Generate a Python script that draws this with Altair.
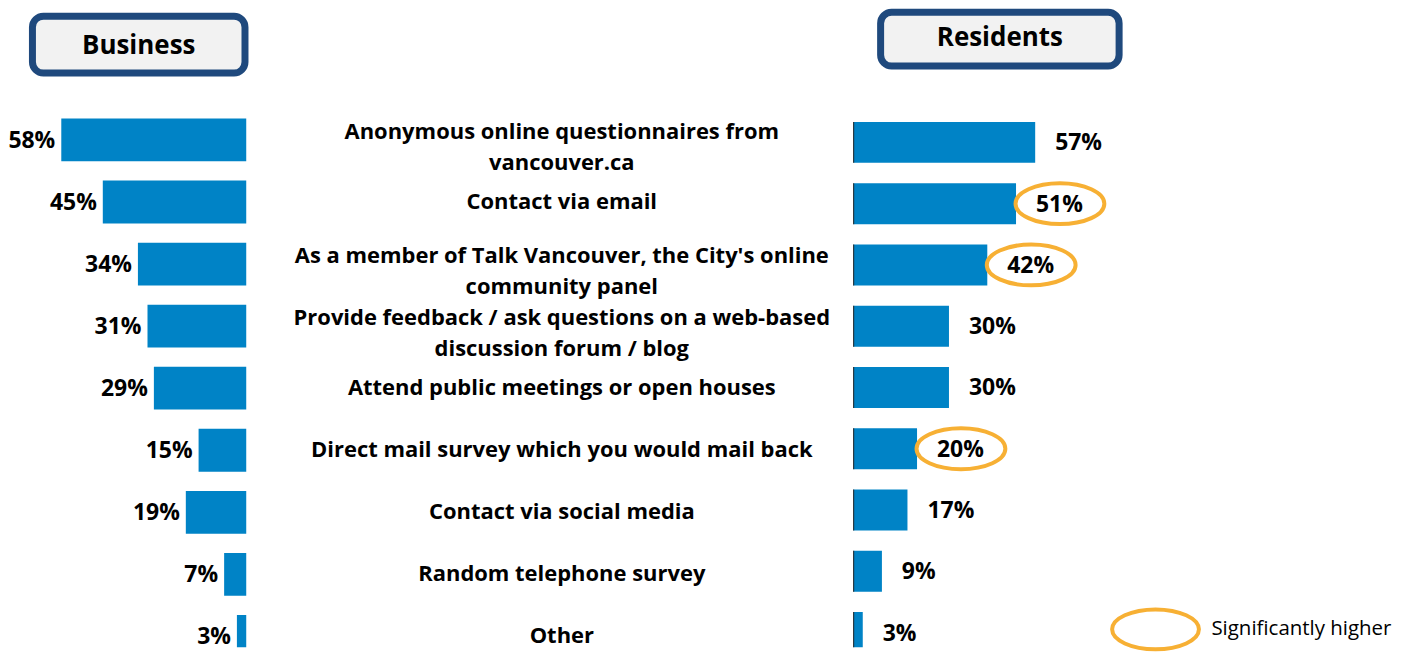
import altair as alt
import pandas as pd

# ---------------- data ----------------
categories = [
    "Anonymous online questionnaires from\nvancouver.ca",
    "Contact via email",
    "As a member of Talk Vancouver, the City's online\ncommunity panel",
    "Provide feedback / ask questions on a web-based\ndiscussion forum / blog",
    "Attend public meetings or open houses",
    "Direct mail survey which you would mail back",
    "Contact via social media",
    "Random telephone survey",
    "Other",
]
business = [58, 45, 34, 31, 29, 15, 19, 7, 3]
residents = [57, 51, 42, 30, 30, 20, 17, 9, 3]
significant = [False, True, True, False, False, True, False, False, False]
panel_titles = ["Business", "Residents"]
legend_label = "Significantly higher"

df = pd.DataFrame({
    "row": list(range(len(categories))),
    "category": categories,
    "business": business,
    "residents": residents,
    "sig": significant,
})
df["blabel"] = [f"{v}%" for v in business]
df["rlabel"] = [f"{v}%" for v in residents]

# ---------------- style ----------------
FONT = "Open Sans"
BLUE = "#0083C6"
ORANGE = "#F7B034"
NAVY = "#1F497D"
BOXFILL = "#F2F2F2"
H = 640
WL, WM, WR = 238, 606, 548
LABEL_SIZE = 23
CAT_SIZE = 22
ELLIPSE = "M -1 0 A 1 0.46 0 1 0 1 0 A 1 0.46 0 1 0 -1 0 Z"

yb = alt.Scale(domain=[-2.114, 8.175], reverse=True, nice=False, zero=False)
yr = alt.Scale(domain=[-2.182, 8.241], reverse=True, nice=False, zero=False)
xb = alt.Scale(domain=[0, WL / 3.2], reverse=True, nice=False, zero=False)
xr = alt.Scale(domain=[0, WR / 3.2], nice=False, zero=False)

# ---------------- left panel (Business) ----------------
base_l = alt.Chart(df).transform_calculate(
    y0="datum.row - 0.345", y1="datum.row + 0.345", zero="0"
)
bars_l = base_l.mark_rect(color=BLUE, clip=True).encode(
    x=alt.X("business:Q", scale=xb, axis=None),
    x2="zero:Q",
    y=alt.Y("y0:Q", scale=yb, axis=None),
    y2="y1:Q",
)
lab_l = alt.Chart(df).mark_text(
    align="right", baseline="middle", dx=-6, dy=1, font=FONT,
    fontWeight="bold", fontSize=LABEL_SIZE, color="black",
).encode(
    x=alt.X("business:Q", scale=xb, axis=None),
    y=alt.Y("row:Q", scale=yb, axis=None),
    text="blabel:N",
)
hdr_l_df = pd.DataFrame({"t": [panel_titles[0]]})
box_l = alt.Chart(hdr_l_df).mark_rect(
    fill=BOXFILL, stroke=NAVY, strokeWidth=7, cornerRadius=11
).encode(
    x=alt.value(23.5), x2=alt.value(236.5), y=alt.value(7.5), y2=alt.value(64.5)
)
txt_l = alt.Chart(hdr_l_df).mark_text(
    font=FONT, fontWeight="bold", fontSize=26, color="black",
    align="center", baseline="middle",
).encode(x=alt.value(130), y=alt.value(37), text="t:N")

left = alt.layer(bars_l, lab_l, box_l, txt_l).properties(width=WL, height=H)

# ---------------- middle panel (categories) ----------------
mid = alt.Chart(df).transform_calculate(
    ty="datum.row - (indexof(datum.category, '\\n') >= 0 ? 0.13 : 0)"
).mark_text(
    font=FONT, fontWeight="bold", fontSize=CAT_SIZE, color="black",
    align="center", baseline="middle", lineBreak="\n", lineHeight=31.5,
).encode(
    x=alt.value(314),
    y=alt.Y("ty:Q", scale=yb, axis=None),
    text="category:N",
).properties(width=WM, height=H)

# ---------------- right panel (Residents) ----------------
base_r = alt.Chart(df).transform_calculate(
    y0="datum.row - 0.334", y1="datum.row + 0.334", zero="0"
)
bars_r = base_r.mark_rect(color=BLUE, clip=True).encode(
    x=alt.X("residents:Q", scale=xr, axis=None),
    x2="zero:Q",
    y=alt.Y("y0:Q", scale=yr, axis=None),
    y2="y1:Q",
)
edge_r = base_r.mark_rule(color="#222222", strokeWidth=2, clip=True).encode(
    x=alt.X("zero:Q", scale=xr, axis=None),
    y=alt.Y("y0:Q", scale=yr, axis=None),
    y2="y1:Q",
)
lab_r = alt.Chart(df).mark_text(
    align="left", baseline="middle", dx=20, dy=1, font=FONT,
    fontWeight="bold", fontSize=LABEL_SIZE, color="black",
).encode(
    x=alt.X("residents:Q", scale=xr, axis=None),
    y=alt.Y("row:Q", scale=yr, axis=None),
    text="rlabel:N",
)
ell_r = alt.Chart(df).transform_filter("datum.sig").transform_calculate(
    ex="datum.residents + 13.75"
).mark_point(
    shape=ELLIPSE, size=89 * 89, filled=False, stroke=ORANGE,
    strokeWidth=4, opacity=1,
).encode(
    x=alt.X("ex:Q", scale=xr, axis=None),
    y=alt.Y("row:Q", scale=yr, axis=None),
)
hdr_r_df = pd.DataFrame({"t": [panel_titles[1]]})
box_r = alt.Chart(hdr_r_df).mark_rect(
    fill=BOXFILL, stroke=NAVY, strokeWidth=7, cornerRadius=11
).encode(
    x=alt.value(27.5), x2=alt.value(266.5), y=alt.value(3.5), y2=alt.value(57.5)
)
txt_r = alt.Chart(hdr_r_df).mark_text(
    font=FONT, fontWeight="bold", fontSize=26, color="black",
    align="center", baseline="middle",
).encode(x=alt.value(147), y=alt.value(29), text="t:N")

leg_df = pd.DataFrame({"t": [legend_label]})
leg_ell = alt.Chart(leg_df).mark_point(
    shape=ELLIPSE, size=87 * 87, filled=False, stroke=ORANGE,
    strokeWidth=4, opacity=1,
).encode(x=alt.value(303), y=alt.value(622))
leg_txt = alt.Chart(leg_df).mark_text(
    font=FONT, fontSize=20.5, color="black", align="left", baseline="middle",
).encode(x=alt.value(359), y=alt.value(622), text="t:N")

right = alt.layer(bars_r, edge_r, lab_r, ell_r, box_r, txt_r, leg_ell, leg_txt).properties(
    width=WR, height=H
)

chart = (
    alt.hconcat(left, mid, right, spacing=0)
    .resolve_scale(x="independent", y="independent")
    .properties(padding=0)
    .configure_view(stroke=None)
)

chart.save("out.html", embed_options={"renderer": "svg", "actions": False})
